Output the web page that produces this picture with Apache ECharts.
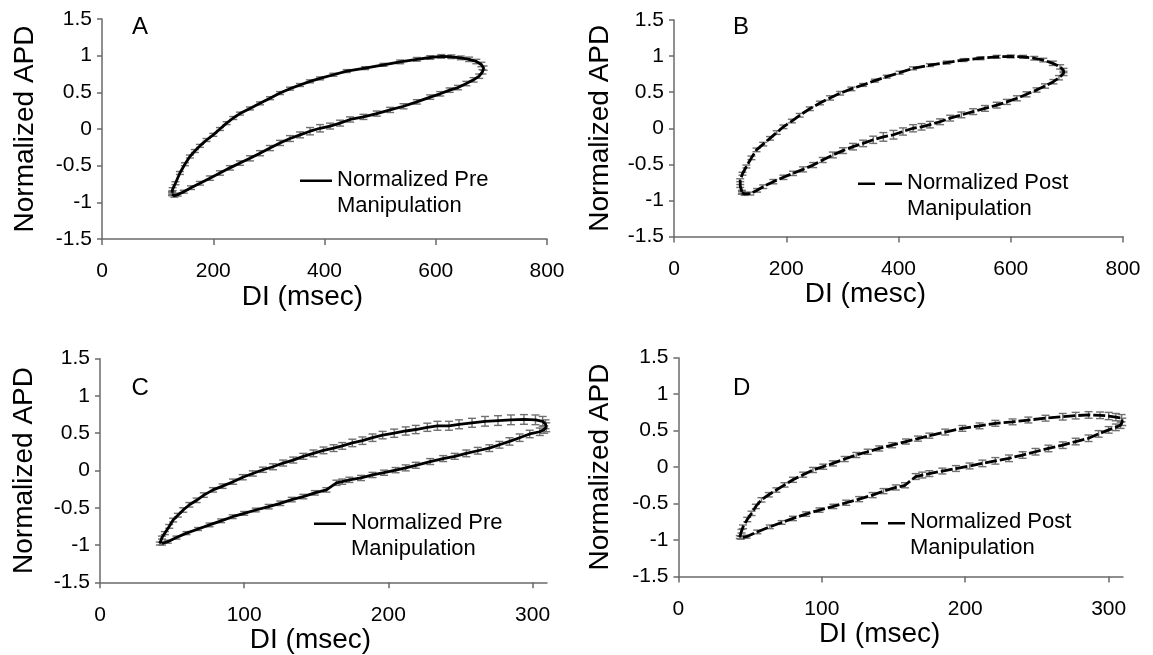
<!DOCTYPE html>
<html><head><meta charset="utf-8">
<script src="https://cdn.jsdelivr.net/npm/echarts@6/dist/echarts.min.js"></script>
<style>html,body{margin:0;padding:0;background:#fff}#c{width:1153px;height:655px}</style>
</head><body><div id="c"></div><script>
// ---- data ----
const panelLetters = ['A', 'B', 'C', 'D'];
const xTitles = ['DI (msec)', 'DI (mesc)', 'DI (msec)', 'DI (msec)'];
const yTitle = 'Normalized APD';
const seriesNames = ['Normalized Pre Manipulation', 'Normalized Post Manipulation', 'Normalized Pre Manipulation', 'Normalized Post Manipulation'];
const xTicksAB = [0, 200, 400, 600, 800];
const xTicksCD = [0, 100, 200, 300];
const yTicks = [-1.5, -1, -0.5, 0, 0.5, 1, 1.5];

// [DI, normalized APD, error]
const panelA = [
[126,-0.87,0.02],[127,-0.82,0.02],[132,-0.74,0.02],[140,-0.60,0.02],[149,-0.48,0.02],[158,-0.375,0.02],[167,-0.30,0.02],[176,-0.23,0.02],[188,-0.15,0.02],[200,-0.08,0.02],[212,0.0,0.02],[224,0.08,0.02],[236,0.15,0.02],[248,0.21,0.02],[266,0.28,0.02],[284,0.35,0.02],[302,0.42,0.02],[320,0.49,0.02],[338,0.55,0.02],[356,0.60,0.02],[374,0.65,0.02],[392,0.69,0.02],[416,0.74,0.02],[440,0.79,0.02],[473,0.83,0.02],[506,0.875,0.02],[536,0.915,0.025],[566,0.95,0.025],[590,0.975,0.025],[610,0.99,0.025],[628,0.985,0.025],[645,0.97,0.025],[660,0.95,0.03],[673,0.92,0.03],[682,0.88,0.03],[686,0.83,0.03],[684,0.78,0.03],
[678,0.72,0.03],[668,0.67,0.03],[655,0.62,0.03],[640,0.565,0.03],[625,0.53,0.03],[608,0.48,0.03],[590,0.435,0.03],[566,0.37,0.03],[542,0.31,0.035],[518,0.26,0.035],[494,0.21,0.035],[470,0.165,0.035],[446,0.13,0.035],[428,0.08,0.04],[410,0.04,0.04],[392,0.01,0.05],[374,-0.03,0.05],[356,-0.08,0.04],[338,-0.13,0.04],[320,-0.19,0.035],[302,-0.26,0.035],[284,-0.33,0.035],[266,-0.40,0.035],[248,-0.465,0.03],[230,-0.53,0.03],[212,-0.60,0.03],[194,-0.67,0.03],[176,-0.74,0.025],[160,-0.80,0.025],[147,-0.855,0.02],[136,-0.895,0.02],[130,-0.91,0.02],[126,-0.89,0.02]
];
const panelB = [
[121,-0.88,0.02],[118,-0.80,0.02],[118,-0.72,0.02],[122,-0.63,0.02],[129,-0.53,0.02],[138,-0.41,0.025],[147,-0.30,0.025],[159,-0.22,0.025],[171,-0.14,0.025],[183,-0.06,0.025],[195,0.02,0.025],[210,0.10,0.025],[224,0.18,0.025],[242,0.27,0.025],[260,0.35,0.025],[278,0.42,0.03],[296,0.485,0.025],[316,0.545,0.025],[337,0.60,0.02],[358,0.66,0.02],[379,0.715,0.02],[402,0.77,0.02],[426,0.83,0.02],[456,0.875,0.02],[486,0.91,0.02],[516,0.945,0.02],[546,0.97,0.02],[575,0.99,0.02],[600,0.995,0.02],[622,0.99,0.02],[642,0.97,0.025],[658,0.945,0.025],[675,0.90,0.03],[688,0.85,0.03],[694,0.80,0.03],[694,0.76,0.03],
[686,0.70,0.03],[676,0.645,0.03],[661,0.585,0.03],[646,0.53,0.03],[628,0.47,0.035],[611,0.415,0.035],[593,0.365,0.035],[575,0.32,0.04],[554,0.275,0.04],[533,0.23,0.04],[512,0.185,0.04],[492,0.14,0.04],[474,0.09,0.04],[456,0.05,0.045],[441,0.02,0.045],[426,0.0,0.05],[408,-0.045,0.05],[391,-0.09,0.06],[373,-0.12,0.06],[355,-0.16,0.05],[337,-0.21,0.045],[319,-0.255,0.045],[301,-0.31,0.04],[283,-0.37,0.04],[265,-0.44,0.035],[248,-0.51,0.035],[230,-0.57,0.035],[212,-0.625,0.03],[195,-0.68,0.03],[177,-0.74,0.03],[159,-0.81,0.025],[148,-0.86,0.025],[136,-0.905,0.02],[126,-0.91,0.02],[121,-0.895,0.02]
];
const panelC = [
[41.5,-0.98,0.02],[43,-0.90,0.02],[45,-0.84,0.02],[48,-0.75,0.025],[50.7,-0.665,0.025],[54,-0.60,0.025],[57.7,-0.53,0.03],[62,-0.46,0.03],[67,-0.40,0.03],[72,-0.33,0.03],[78.4,-0.26,0.03],[85,-0.21,0.03],[92.3,-0.15,0.035],[99,-0.09,0.035],[106,-0.04,0.035],[113,0.01,0.035],[120,0.05,0.04],[127,0.10,0.04],[134,0.14,0.04],[141,0.19,0.04],[148,0.23,0.045],[155,0.27,0.045],[162,0.30,0.045],[168,0.33,0.045],[175,0.37,0.05],[182,0.40,0.05],[189,0.44,0.05],[196,0.475,0.05],[204,0.50,0.055],[212,0.53,0.055],[219,0.55,0.055],[227,0.58,0.055],[234,0.60,0.06],[242,0.60,0.06],[249,0.62,0.06],[258,0.64,0.06],[267,0.66,0.065],[276,0.67,0.065],[285,0.68,0.065],[294,0.685,0.065],[302,0.68,0.065],[307,0.66,0.065],[309,0.62,0.06],[309.5,0.58,0.06],
[308,0.55,0.05],[305,0.52,0.05],[298,0.49,0.05],[291,0.44,0.05],[284,0.39,0.05],[277,0.345,0.045],[270,0.30,0.045],[262,0.265,0.045],[254,0.23,0.045],[246,0.19,0.04],[238,0.16,0.04],[229,0.12,0.04],[219,0.07,0.04],[212,0.035,0.04],[205,0.005,0.035],[197,-0.03,0.035],[189,-0.06,0.035],[181,-0.10,0.035],[173,-0.125,0.035],[168,-0.15,0.035],[164,-0.165,0.035],[157,-0.26,0.03],[149,-0.30,0.03],[141,-0.35,0.03],[133,-0.39,0.03],[125,-0.44,0.03],[117,-0.485,0.03],[108,-0.53,0.025],[100,-0.575,0.025],[92,-0.62,0.025],[84,-0.675,0.025],[76,-0.73,0.025],[68,-0.785,0.02],[60,-0.84,0.02],[53,-0.90,0.02],[47,-0.955,0.02],[43,-0.98,0.02]
];
const panelD = [
[42.8,-0.96,0.02],[44,-0.88,0.025],[45.1,-0.82,0.025],[48,-0.72,0.03],[51,-0.635,0.03],[54,-0.54,0.03],[57.9,-0.45,0.03],[63,-0.38,0.03],[68.3,-0.315,0.03],[74,-0.245,0.03],[79.9,-0.175,0.035],[87,-0.105,0.035],[93.8,-0.04,0.035],[101,0.005,0.035],[107.7,0.05,0.035],[116,0.11,0.035],[124,0.165,0.035],[132,0.21,0.035],[140,0.255,0.035],[149,0.30,0.035],[158.7,0.35,0.035],[167,0.39,0.035],[175,0.43,0.035],[186,0.48,0.04],[198,0.53,0.04],[210,0.565,0.04],[221,0.60,0.04],[233,0.62,0.04],[244,0.645,0.04],[256,0.67,0.04],[268,0.69,0.045],[277,0.705,0.045],[286,0.715,0.045],[294,0.71,0.045],[300,0.70,0.05],[305,0.685,0.05],[309,0.67,0.05],[309.5,0.62,0.05],
[308.3,0.575,0.045],[305,0.545,0.045],[300,0.51,0.045],[293,0.455,0.045],[286,0.395,0.045],[277,0.35,0.045],[268,0.30,0.045],[258,0.255,0.045],[249,0.21,0.045],[240,0.165,0.045],[230.5,0.12,0.045],[221,0.085,0.045],[212,0.05,0.045],[203,0.015,0.04],[193.5,-0.02,0.04],[184,-0.055,0.04],[175,-0.09,0.04],[170,-0.11,0.04],[165.5,-0.13,0.04],[158,-0.25,0.035],[151.6,-0.28,0.035],[143,-0.33,0.035],[135.4,-0.385,0.035],[126,-0.44,0.035],[117,-0.49,0.035],[108,-0.54,0.03],[98.4,-0.59,0.03],[89,-0.645,0.03],[79.9,-0.705,0.03],[72,-0.76,0.025],[63.7,-0.82,0.025],[55,-0.89,0.025],[47.5,-0.955,0.02],[43.5,-0.97,0.02]
];

// ---- layout / style ----
const FONT = '"Liberation Sans", Arial, sans-serif';
const panels = [
  {data: panelA, ticks: xTicksAB, xmax: 800, grid: {left: 102, top: 19, width: 445, height: 220}, dashed: false,
   xNameGap: 40, xNameShift: 44, yNameGap: 63, legend: {left: 300, top: 166.5}, letter: {left: 132, top: 15.5}},
  {data: panelB, ticks: xTicksAB, xmax: 800, grid: {left: 674, top: 20, width: 449, height: 216.5}, dashed: true,
   xNameGap: 42, xNameShift: 66, yNameGap: 60, legend: {left: 858, top: 169.5}, letter: {left: 733, top: 15.2}},
  {data: panelC, ticks: xTicksCD, xmax: 310, grid: {left: 100, top: 358.7, width: 447, height: 223.6}, dashed: false,
   xNameGap: 42, xNameShift: 26, yNameGap: 62, legend: {left: 314, top: 509.5}, letter: {left: 131.5, top: 376.5}},
  {data: panelD, ticks: xTicksCD, xmax: 310, grid: {left: 678.4, top: 357.7, width: 444.6, height: 218.7}, dashed: true,
   xNameGap: 44, xNameShift: 42, yNameGap: 64, legend: {left: 861, top: 509}, letter: {left: 733, top: 376.5}}
];
const solidIcon = 'path://M0,0h32v2.5h-32z M0,25.99h0.01v0.01h-0.01z';
const dashIcon = 'path://M0,0h17v2.5h-17z M27,0h17v2.5h-17z M0,25.99h0.01v0.01h-0.01z';

function errRender(params, api) {
  const x = api.value(0), y = api.value(1), e = api.value(2);
  const hi = api.coord([x, y + e]);
  const lo = api.coord([x, y - e]);
  const w = 4;
  const style = {stroke: '#707070', lineWidth: 1.4, fill: null};
  return {type: 'group', children: [
    {type: 'line', shape: {x1: hi[0], y1: hi[1], x2: lo[0], y2: lo[1]}, style: style},
    {type: 'line', shape: {x1: hi[0] - w, y1: hi[1], x2: hi[0] + w, y2: hi[1]}, style: style},
    {type: 'line', shape: {x1: lo[0] - w, y1: lo[1], x2: lo[0] + w, y2: lo[1]}, style: style}
  ]};
}

const option = {
  backgroundColor: '#fff',
  animation: false,
  grid: [], xAxis: [], yAxis: [], series: [], legend: [], graphic: []
};
const axisLine = {show: true, onZero: false, lineStyle: {color: '#6a6a6a', width: 1.5}};
panels.forEach((p, i) => {
  option.grid.push(Object.assign({containLabel: false, outerBoundsMode: 'none'}, p.grid));
  option.xAxis.push({
    type: 'value', gridIndex: i, min: 0, max: p.xmax, interval: p.ticks[1] - p.ticks[0],
    splitLine: {show: false}, axisLine: axisLine,
    axisTick: {show: true, length: 6, lineStyle: {color: '#6a6a6a', width: 1.5}, customValues: p.ticks},
    axisLabel: {margin: 22, color: '#000', fontSize: 21, fontFamily: FONT, customValues: p.ticks},
    name: xTitles[i], nameLocation: 'middle', nameGap: p.xNameGap,
    nameTextStyle: {color: '#000', fontSize: 28, fontFamily: FONT, padding: [0, p.xNameShift, 0, 0]}
  });
  option.yAxis.push({
    type: 'value', gridIndex: i, min: -1.5, max: 1.5, interval: 0.5,
    splitLine: {show: false}, axisLine: axisLine,
    axisTick: {show: true, length: 5, lineStyle: {color: '#6a6a6a', width: 1.5}, customValues: yTicks},
    axisLabel: {margin: 10, color: '#000', fontSize: 21, fontFamily: FONT, customValues: yTicks},
    name: yTitle, nameLocation: 'middle', nameGap: p.yNameGap, nameRotate: 90,
    nameTextStyle: {color: '#000', fontSize: 28, fontFamily: FONT}
  });
  option.series.push({
    type: 'custom', name: 'err' + i, xAxisIndex: i, yAxisIndex: i, z: 2,
    renderItem: errRender, encode: {x: 0, y: 1}, data: p.data, silent: true
  });
  option.series.push({
    type: 'line', name: seriesNames[i], xAxisIndex: i, yAxisIndex: i, z: 3,
    data: p.data.map(d => [d[0], d[1]]), showSymbol: false, symbol: 'none',
    lineStyle: {color: '#000', width: 2.8, type: p.dashed ? [12, 3] : 'solid'},
    itemStyle: {color: '#000'}, silent: true
  });
  option.legend.push({
    left: p.legend.left, top: p.legend.top, orient: 'vertical', padding: 0, itemGap: 0,
    itemWidth: p.dashed ? 44 : 32, itemHeight: 26, selectedMode: false,
    data: [{name: seriesNames[i], icon: p.dashed ? dashIcon : solidIcon}],
    formatter: n => n.replace(' Manipulation', '\nManipulation'),
    itemStyle: {color: '#000', borderWidth: 0},
    textStyle: {color: '#000', fontSize: 22, lineHeight: 26, fontFamily: FONT}
  });
  option.graphic.push({
    type: 'text', left: p.letter.left, top: p.letter.top,
    style: {text: panelLetters[i], fill: '#000', font: '24px ' + FONT}
  });
});

const chart = echarts.init(document.getElementById('c'), null, {renderer: 'canvas'});
chart.setOption(option);
</script></body></html>
